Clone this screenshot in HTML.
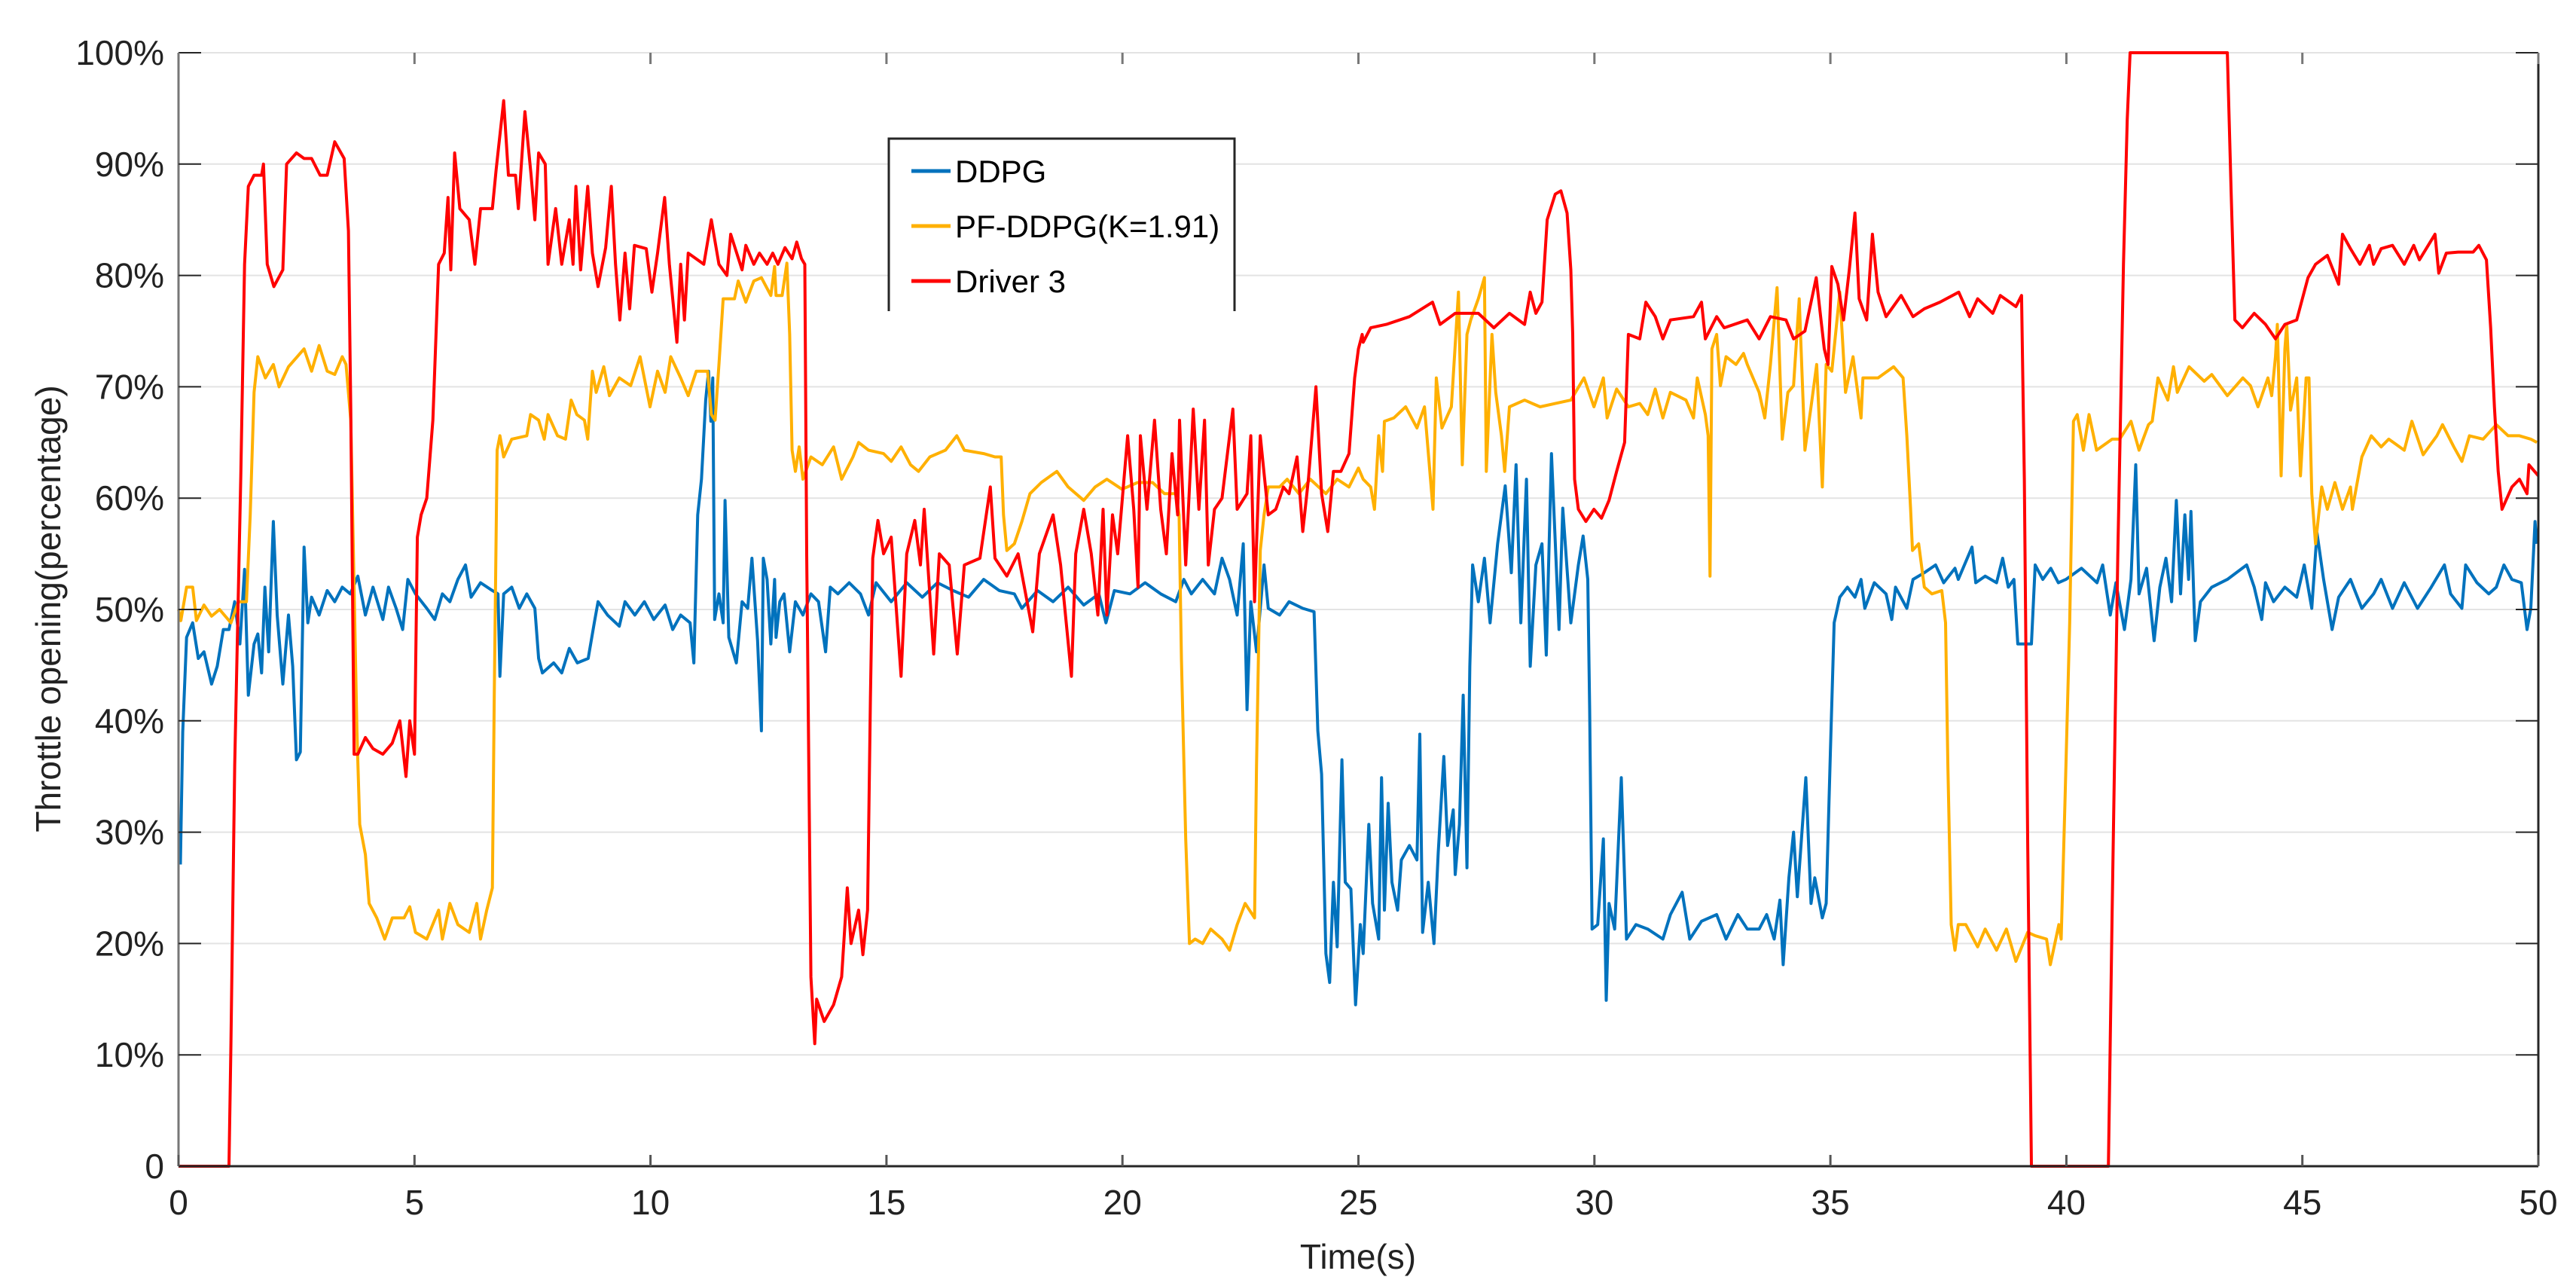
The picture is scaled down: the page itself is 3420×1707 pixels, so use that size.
<!DOCTYPE html>
<html><head><meta charset="utf-8"><style>
html,body{margin:0;padding:0;background:#fff;}
svg{display:block;font-family:"Liberation Sans",Arial,sans-serif;}
</style></head><body>
<svg id="chart" width="3420" height="1707" viewBox="0 0 3420 1707" xmlns="http://www.w3.org/2000/svg">
<rect width="3420" height="1707" fill="#fff"/>
<g id="grid"></g>
<g id="series"></g>
<g id="axes"></g>
<text x="1803" y="1684" font-size="46" text-anchor="middle" fill="#222">Time(s)</text>
<text x="0" y="0" font-size="46" text-anchor="middle" fill="#222" transform="translate(80,808) rotate(-90)">Throttle opening(percentage)</text>
<g id="legend"></g>
</svg>
<script>
const xTicks=[0,5,10,15,20,25,30,35,40,45,50];
const yTicks=[0,10,20,30,40,50,60,70,80,90,100];
const yTickLabels=["0","10%","20%","30%","40%","50%","60%","70%","80%","90%","100%"];
const seriesNames=["DDPG","PF-DDPG(K=1.91)","Driver 3"];

const ddpgT=[0.04,0.09,0.17,0.3,0.42,0.54,0.7,0.82,0.95,1.07,1.19,1.3,1.4,1.48,1.6,1.68,1.76,1.83,1.91,2.01,2.09,2.21,2.33,2.42,2.5,2.58,2.66,2.74,2.82,2.98,3.15,3.31,3.47,3.64,3.8,3.96,4.12,4.33,4.45,4.61,4.75,4.86,5.02,5.26,5.43,5.59,5.75,5.92,6.08,6.2,6.4,6.65,6.77,6.81,6.89,7.06,7.22,7.38,7.55,7.63,7.71,7.95,8.12,8.28,8.45,8.68,8.81,8.89,9.09,9.34,9.46,9.67,9.87,10.07,10.31,10.47,10.64,10.84,10.92,11.0,11.08,11.17,11.23,11.28,11.32,11.36,11.45,11.54,11.58,11.66,11.82,11.94,12.06,12.15,12.27,12.35,12.39,12.47,12.55,12.63,12.66,12.74,12.83,12.95,13.07,13.23,13.4,13.56,13.71,13.81,13.97,14.21,14.45,14.62,14.78,15.1,15.43,15.76,16.08,16.41,16.74,17.06,17.39,17.71,17.87,18.2,18.53,18.85,19.18,19.5,19.65,19.83,20.16,20.48,20.81,21.13,21.3,21.46,21.7,21.95,22.11,22.27,22.43,22.56,22.64,22.72,22.84,23.0,23.09,23.33,23.53,23.82,24.06,24.14,24.22,24.31,24.39,24.47,24.55,24.65,24.72,24.84,24.94,25.04,25.1,25.22,25.3,25.43,25.49,25.55,25.63,25.71,25.83,25.91,26.08,26.24,26.3,26.36,26.48,26.6,26.69,26.81,26.89,27.01,27.05,27.14,27.22,27.3,27.36,27.42,27.54,27.67,27.79,27.95,28.11,28.24,28.34,28.44,28.56,28.64,28.76,28.89,28.98,29.09,29.25,29.33,29.5,29.66,29.76,29.86,29.9,29.95,30.07,30.19,30.25,30.31,30.43,30.57,30.68,30.88,31.13,31.45,31.61,31.86,32.02,32.27,32.59,32.79,33.04,33.24,33.49,33.65,33.81,33.93,34.0,34.12,34.22,34.3,34.48,34.59,34.67,34.83,34.91,35.0,35.08,35.2,35.36,35.52,35.65,35.73,35.93,36.18,36.3,36.38,36.62,36.75,36.99,37.23,37.4,37.64,37.71,38.0,38.08,38.28,38.52,38.65,38.77,38.89,38.97,39.26,39.34,39.5,39.67,39.83,39.99,40.32,40.65,40.77,40.93,41.05,41.23,41.37,41.47,41.54,41.7,41.86,41.98,42.11,42.23,42.33,42.42,42.51,42.59,42.64,42.73,42.84,43.08,43.41,43.82,43.98,44.14,44.22,44.39,44.63,44.88,45.04,45.2,45.31,45.45,45.63,45.77,46.02,46.26,46.51,46.67,46.91,47.16,47.44,47.73,48.01,48.14,48.38,48.46,48.7,48.95,49.11,49.27,49.44,49.64,49.76,49.84,49.93,49.97];
const ddpgV=[27.1,39,47.5,48.8,45.6,46.2,43.3,44.9,48.2,48.2,50.7,46.9,53.6,42.3,46.9,47.8,44.3,52,46.2,57.9,49.5,43.3,49.5,44.9,36.5,37.2,55.6,48.8,51.1,49.5,51.7,50.7,52,51.4,53,49.5,52,49.1,52,50.1,48.2,52.7,51.4,50.1,49.1,51.4,50.7,52.7,54,51.1,52.4,51.7,51.4,44,51.4,52,50.1,51.4,50.1,45.6,44.3,45.2,44.3,46.5,45.2,45.6,48.8,50.7,49.5,48.5,50.7,49.5,50.7,49.1,50.4,48.2,49.5,48.8,45.2,58.5,61.7,68.8,71.4,66.9,70.8,49.1,51.4,48.8,59.8,47.5,45.2,50.7,50.1,54.6,47.2,39.1,54.6,52.7,46.9,52.7,47.5,50.7,51.4,46.2,50.7,49.5,51.4,50.7,46.2,52,51.4,52.4,51.4,49.5,52.4,50.7,52.4,51.1,52.4,51.7,51.1,52.7,51.7,51.4,50.1,51.7,50.7,52,50.4,51.4,48.8,51.7,51.4,52.4,51.4,50.7,52.7,51.4,52.7,51.4,54.6,52.7,49.5,55.9,41,50.7,46.2,54,50.1,49.5,50.7,50.1,49.8,39.1,35.2,19.1,16.5,25.5,19.7,36.5,25.5,24.9,14.5,21.7,19.1,30.7,23.6,20.4,34.9,23,32.6,25.5,23,27.5,28.8,27.5,38.8,21,25.5,20,28.1,36.8,28.8,32,26.2,30.7,42.3,26.8,44.9,54,50.7,54.6,48.8,55.9,61.1,53.3,63,48.8,61.7,44.9,54,55.9,45.9,64,48.2,59.1,48.8,54,56.6,52.7,41,21.3,21.7,29.4,14.9,23.6,21.3,34.9,20.4,21.7,21.3,20.4,22.6,24.6,20.4,22,22.6,20.4,22.6,21.3,21.3,22.6,20.4,23.9,18.1,25.9,30,24.2,34.9,23.6,25.9,22.3,23.6,37.2,48.8,51.1,52,51.1,52.7,50.1,52.4,51.4,49.1,52,50.1,52.7,53.3,54,52.4,53.7,52.7,55.6,52.4,53,52.4,54.6,52,52.7,46.9,46.9,54,52.7,53.7,52.4,52.7,53.7,52.4,54,49.5,52.4,48.2,52.7,63,51.4,53.7,47.2,52,54.6,50.7,59.8,51.4,58.5,52.7,58.8,47.2,50.7,52,52.7,54,52,49.1,52.4,50.7,52,51.1,54,50.1,56.9,52.7,48.2,51.1,52.7,50.1,51.4,52.7,50.1,52.4,50.1,52,54,51.4,50.1,54,52.4,51.4,52,54,52.7,52.4,48.2,50.1,57.9,55.9];

const pfT=[0,0.05,0.17,0.3,0.38,0.54,0.7,0.87,1.11,1.27,1.44,1.52,1.6,1.68,1.84,2.01,2.13,2.33,2.66,2.82,2.98,3.15,3.31,3.47,3.55,3.65,3.72,3.78,3.84,3.96,4.04,4.2,4.37,4.53,4.78,4.9,5.02,5.26,5.51,5.59,5.75,5.92,6.16,6.32,6.4,6.53,6.65,6.69,6.75,6.81,6.89,7.06,7.38,7.46,7.63,7.75,7.83,8.03,8.2,8.32,8.44,8.6,8.67,8.77,8.85,9.01,9.13,9.34,9.58,9.78,9.99,10.15,10.31,10.43,10.64,10.8,10.97,11.21,11.29,11.37,11.45,11.54,11.78,11.86,12.02,12.19,12.35,12.55,12.63,12.66,12.79,12.89,12.95,13.0,13.07,13.15,13.23,13.4,13.64,13.88,14.05,14.29,14.41,14.62,14.94,15.1,15.31,15.51,15.68,15.92,16.25,16.49,16.65,17.06,17.3,17.43,17.48,17.55,17.71,17.87,18.04,18.28,18.61,18.85,19.18,19.42,19.67,19.99,20.32,20.64,20.89,21.13,21.2,21.25,21.34,21.42,21.54,21.7,21.87,22.11,22.27,22.43,22.6,22.8,22.84,22.92,23.0,23.09,23.33,23.49,23.74,23.98,24.31,24.55,24.8,25.0,25.1,25.26,25.34,25.43,25.51,25.55,25.75,26.0,26.24,26.4,26.58,26.65,26.77,26.97,27.12,27.2,27.3,27.38,27.54,27.67,27.71,27.83,27.91,28.03,28.1,28.2,28.52,28.85,29.17,29.5,29.78,29.99,30.19,30.27,30.47,30.72,30.96,31.13,31.29,31.45,31.61,31.94,32.1,32.18,32.35,32.41,32.45,32.49,32.59,32.67,32.79,33.0,33.16,33.24,33.49,33.61,33.73,33.87,33.98,34.1,34.22,34.34,34.46,34.59,34.71,34.83,34.91,35.03,35.2,35.32,35.48,35.65,35.69,36.01,36.34,36.54,36.62,36.7,36.74,36.87,36.99,37.15,37.36,37.44,37.49,37.56,37.64,37.71,37.87,38.12,38.28,38.52,38.73,38.93,39.18,39.34,39.58,39.66,39.84,39.89,39.97,40.07,40.15,40.23,40.36,40.48,40.64,40.97,41.13,41.37,41.54,41.74,41.82,41.94,42.15,42.27,42.35,42.6,42.92,43.08,43.41,43.74,43.9,44.06,44.27,44.35,44.43,44.47,44.55,44.63,44.67,44.75,44.88,44.96,45.08,45.14,45.2,45.28,45.41,45.53,45.69,45.85,46.02,46.06,46.26,46.46,46.67,46.83,47.16,47.32,47.56,47.85,47.97,48.21,48.38,48.54,48.83,49.11,49.36,49.6,49.84,49.97];
const pfV=[50,49,52,52,49,50.4,49.4,50,48.8,50.7,50.7,58.5,69.5,72.7,70.8,72,70,71.8,73.4,71.4,73.7,71.4,71.1,72.7,72,67,52,39,30.7,28,23.6,22.3,20.4,22.3,22.3,23.3,21,20.4,23,20.4,23.6,21.7,21,23.6,20.4,23,25,42.3,64.3,65.6,63.7,65.3,65.6,67.5,67,65.3,67.5,65.6,65.3,68.8,67.5,67,65.3,71.4,69.5,71.8,69.2,70.8,70.1,72.7,68.2,71.4,69.5,72.7,70.8,69.2,71.4,71.4,67.5,67,72,77.9,77.9,79.5,77.6,79.5,79.8,78.2,80.8,78.2,78.2,81.1,74.7,64.3,62.4,64.6,61.7,63.7,63,64.6,61.7,63.7,65,64.3,64,63.3,64.6,63,62.4,63.7,64.3,65.6,64.3,64,63.7,63.7,58.5,55.3,55.9,57.9,60.4,61.4,62.4,61,59.8,61,61.7,60.8,61.4,61.4,60.4,60.4,58.5,45.6,29.4,20,20.4,20,21.3,20.4,19.4,21.7,23.6,22.3,35.9,55.3,58.5,61,61,61.7,60.4,61.7,60.4,61.7,61,62.7,61.7,61,59,65.6,62.4,66.9,67.2,68.2,66.3,68.2,59,70.8,66.3,68.2,78.5,63,74.7,76,77.9,79.8,62.4,74.7,69.5,65.6,62.4,68.2,68.8,68.2,68.5,68.8,70.8,68.2,70.8,67.2,69.8,68.2,68.5,67.5,69.8,67.2,69.5,68.8,67.2,70.8,67.5,65.6,53,73.4,74.7,70.1,72.7,72,73,72,69.5,67.2,72,78.9,65.3,69.5,70.1,77.9,64.3,68.2,72,61,72,71.4,78.5,69.5,72.7,67.2,70.8,70.8,71.8,70.8,65.6,59,55.3,55.9,52,51.4,51.7,48.8,35.9,21.7,19.4,21.7,21.7,19.7,21.3,19.4,21.3,18.4,21,20.7,20.4,18.1,21.7,20.4,32.6,48.8,66.9,67.5,64.3,67.5,64.3,65.3,65.3,66.9,64.3,66.6,66.9,70.8,68.8,71.8,69.5,71.8,70.5,71.1,69.2,70.8,70.1,68.2,70.8,69.2,72.7,75.6,62,73.4,75.6,67.9,70.8,62,70.8,70.8,60.4,55.9,61,59,61.4,59,61,59,63.7,65.6,64.6,65.3,64.3,66.9,63.9,65.6,66.6,64.6,63.3,65.6,65.3,66.6,65.6,65.6,65.3,65,63.7];

const drvT=[0,1.03,1.07,1.11,1.19,1.32,1.4,1.48,1.6,1.76,1.8,1.88,2.02,2.21,2.29,2.5,2.66,2.82,3.0,3.15,3.31,3.51,3.6,3.65,3.72,3.8,3.96,4.12,4.33,4.53,4.69,4.82,4.9,5.0,5.06,5.14,5.26,5.39,5.51,5.63,5.71,5.77,5.85,5.96,6.16,6.28,6.4,6.65,6.73,6.89,6.99,7.14,7.2,7.34,7.47,7.55,7.63,7.77,7.83,7.99,8.12,8.28,8.36,8.42,8.52,8.67,8.77,8.89,9.05,9.17,9.26,9.35,9.46,9.56,9.66,9.91,10.03,10.15,10.3,10.4,10.56,10.64,10.72,10.8,11.13,11.29,11.45,11.62,11.7,11.94,12.02,12.19,12.31,12.47,12.59,12.7,12.85,13.0,13.1,13.2,13.27,13.31,13.4,13.48,13.52,13.68,13.88,14.05,14.17,14.25,14.41,14.5,14.6,14.66,14.71,14.82,14.94,15.1,15.31,15.43,15.6,15.72,15.8,16.0,16.12,16.33,16.5,16.65,16.98,17.2,17.3,17.55,17.79,18.1,18.24,18.53,18.69,18.92,19.01,19.18,19.34,19.48,19.59,19.67,19.79,19.9,20.11,20.24,20.33,20.38,20.52,20.68,20.81,20.93,21.05,21.17,21.21,21.34,21.5,21.62,21.74,21.82,21.95,22.11,22.34,22.43,22.64,22.72,22.8,22.92,23.09,23.25,23.41,23.53,23.7,23.82,23.94,24.1,24.22,24.35,24.47,24.63,24.8,24.92,25.0,25.08,25.1,25.26,25.59,26.08,26.57,26.73,27.05,27.54,27.87,28.2,28.52,28.64,28.76,28.89,29.0,29.17,29.29,29.42,29.5,29.54,29.58,29.66,29.82,29.99,30.15,30.31,30.47,30.64,30.72,30.96,31.09,31.29,31.45,31.61,32.1,32.27,32.35,32.59,32.75,33.24,33.49,33.73,34.06,34.22,34.46,34.7,34.87,34.95,35.03,35.16,35.28,35.4,35.52,35.61,35.77,35.89,36.01,36.18,36.5,36.75,36.99,37.32,37.72,37.95,38.12,38.44,38.6,38.93,39.05,39.11,39.18,39.26,40.89,40.97,41.09,41.21,41.29,41.35,43.41,43.49,43.57,43.73,43.98,44.22,44.43,44.63,44.88,45.0,45.12,45.28,45.53,45.77,45.85,46.02,46.22,46.42,46.51,46.67,46.91,47.16,47.36,47.48,47.81,47.89,48.05,48.3,48.62,48.74,48.9,48.99,49.07,49.15,49.23,49.44,49.6,49.76,49.8,50.0];
const drvV=[0,0,0,11,36,62,81,88,89,89,90,81,79,80.5,90,91,90.5,90.5,89,89,92,90.5,84,68,37,37,38.5,37.5,37,38,40,35,40,37,56.5,58.5,60,67,81,82,87,80.5,91,86,85,81,86,86,89.5,95.7,89,89,86,94.7,89,85,91,90,81,86,81,85,81,88,80.5,88,82,79,82.5,88,81,76,82,77,82.7,82.4,78.5,82,87,81,74,81,76,82,81,85,81,80,83.7,80.5,82.7,81,82,81,82,81,82.5,81.5,83,81.5,81,55,17,11,15,13,14.5,17,25,20,23,19,23,42,54.6,58,55,56.5,44,55,58,54,59,46,55,54,46,54,54.6,61,54.6,53,55,48,55,58.5,54,44,55,59,55,49.5,59,49.5,58.5,55,65.6,59,52,65.6,59,67,59,55,64,58.5,67,54,68,59,67,54,59,60,68,59,60.4,65.6,50.7,65.6,58.5,59,61,60.4,63.7,57,61.7,70,60.4,57,62.4,62.4,64,70.8,73.4,74.7,74,75.3,75.6,76.3,77.6,75.6,76.6,76.6,75.3,76.6,75.6,78.5,76.6,77.6,85,87.3,87.6,85.6,80.5,74.7,61.7,59,57.9,59,58.2,59.8,62.4,65,74.7,74.3,77.6,76.3,74.3,76,76.3,77.6,74.3,76.3,75.3,76,74.3,76.3,76,74.3,75,79.8,73.4,72,80.8,79.2,76,80.5,85.6,77.9,76,83.7,78.5,76.3,78.2,76.3,77,77.6,78.5,76.3,77.9,76.6,78.2,77.2,78.2,61.7,29.4,0,0,23,55,81,94,100,100,87.6,76,75.3,76.6,75.6,74.3,75.6,76,77.9,79.8,81,81.8,79.2,83.7,82.4,81,82.7,81,82.4,82.7,81,82.7,81.4,83.7,80.2,82,82.1,82.1,82.7,81.4,75.3,68.2,62.4,59,61,61.7,60.4,63,62];

const L=237,R=3370,T=70,B=1548;
function xS(t){return L+(t/50)*(R-L);}
function yS(v){return B-(v/100)*(B-T);}
const NS="http://www.w3.org/2000/svg";
function mk(tag,parent){const e=document.createElementNS(NS,tag);parent.appendChild(e);return e;}

const grid=document.getElementById('grid');
yTicks.forEach(v=>{if(v===0)return;
  const l=mk('line',grid);
  
  
  l.setAttribute('x1',L);l.setAttribute('x2',R);l.setAttribute('y1',yS(v));l.setAttribute('y2',yS(v));
  l.setAttribute('stroke','#e3e3e3');l.setAttribute('stroke-width','2');});

const sg=document.getElementById('series');
const defs=[[ddpgT,ddpgV,'#0072BD','ddpg-line'],[pfT,pfV,'#FFB000','pf-ddpg-line'],[drvT,drvV,'#FF0000','driver3-line']];
defs.forEach(d=>{const p=mk('path',sg);
  let s='';d[0].forEach((t,i)=>{s+=(i?'L':'M')+xS(t).toFixed(1)+','+yS(d[1][i]).toFixed(1);});
  p.setAttribute('d',s);p.setAttribute('fill','none');p.setAttribute('stroke',d[2]);p.setAttribute('stroke-width','4');p.setAttribute('stroke-linejoin','round');
  
  });

const ax=document.getElementById('axes');
function line(x1,y1,x2,y2,c,w,n){const l=mk('line',ax);l.setAttribute('x1',x1);l.setAttribute('y1',y1);l.setAttribute('x2',x2);l.setAttribute('y2',y2);l.setAttribute('stroke',c);l.setAttribute('stroke-width',w);
  
  return l;}
line(L,T,L,B,'#777',3,'y-axis-left');
line(R,T,R,B,'#262626',3,'y-axis-right');
line(L,B,R,B,'#262626',3,'x-axis');
yTicks.forEach((v,i)=>{
  line(L,yS(v),L+30,yS(v),'#262626',2,'y-tick');
  line(R-30,yS(v),R,yS(v),'#262626',2,'y-tick-right');
  const t=mk('text',ax);t.textContent=yTickLabels[i];
  t.setAttribute('x',218);t.setAttribute('y',yS(v)+16);t.setAttribute('text-anchor','end');t.setAttribute('font-size','46');t.setAttribute('fill','#222');
  
  });
xTicks.forEach(v=>{
  line(xS(v),B,xS(v),B-15,'#555',3,'x-tick');
  line(xS(v),T,xS(v),T+15,'#777',3,'x-tick-top');
  const t=mk('text',ax);t.textContent=String(v);
  t.setAttribute('x',xS(v));t.setAttribute('y',1612);t.setAttribute('text-anchor','middle');t.setAttribute('font-size','46');t.setAttribute('fill','#222');
  
  });

const lg=document.getElementById('legend');
const bg=mk('rect',lg);bg.setAttribute('x',1180);bg.setAttribute('y',184);bg.setAttribute('width',459);bg.setAttribute('height',229);bg.setAttribute('fill','#fff');


const bp=mk('path',lg);bp.setAttribute('d','M1180,413 L1180,184 L1639,184 L1639,413');bp.setAttribute('fill','none');bp.setAttribute('stroke','#262626');bp.setAttribute('stroke-width','3');


const lgColors=['#0072BD','#FFB000','#FF0000'];
seriesNames.forEach((n,i)=>{const y=227+i*73;
  const g=mk('g',lg);
  
  
  const l=mk('line',g);l.setAttribute('x1',1210);l.setAttribute('x2',1262);l.setAttribute('y1',y);l.setAttribute('y2',y);l.setAttribute('stroke',lgColors[i]);l.setAttribute('stroke-width','5');
  
  
  const t=mk('text',g);t.textContent=n;t.setAttribute('x',1268);t.setAttribute('y',y+15);t.setAttribute('font-size','42');t.setAttribute('fill','#000');
  
  });
</script>
</body></html>
